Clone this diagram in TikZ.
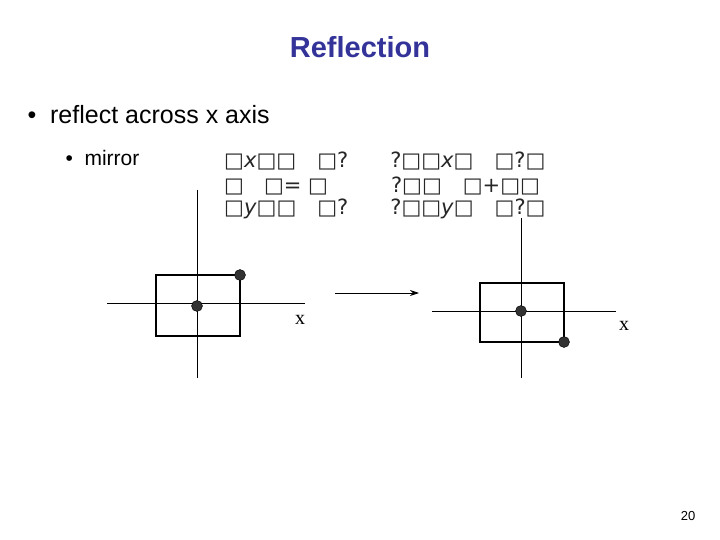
\documentclass[tikz,border=0pt]{standalone}
\usepackage{fontspec}
\setmainfont{Liberation Sans}
\newfontfamily\glyphfont{DejaVu Sans}
\newfontfamily\serifx{Liberation Serif}
\definecolor{titleblue}{RGB}{51,51,153}
\definecolor{dotgray}{RGB}{50,50,50}
\usetikzlibrary{arrows.meta}
\usetikzlibrary{positioning}
\begin{document}
\begin{tikzpicture}[x=1pt,y=-1pt,
      axis style/.style={draw=black,line width=0.9pt},
      box style/.style={draw=black,line width=1.5pt},
      pt style/.style={circle,fill=dotgray,draw=black,inner sep=0pt,minimum size=11pt},
      eq style/.style={anchor=west,inner sep=0pt,font=\glyphfont\fontsize{21}{21}\selectfont,color=black!85}
      ]
      \useasboundingbox (0,0) rectangle (720,540);
      \node[font=\bfseries\fontsize{29}{29}\selectfont,color=titleblue] (title) at (360,47) {Reflection};
      \node[anchor=west,font=\fontsize{25}{25}\selectfont] (b1) at (24,115) {\textbullet\ \ reflect across x axis};
      \node[anchor=west,font=\fontsize{21}{21}\selectfont] (b2) at (62,158) {\textbullet\ \ mirror};

      % garbled formula
      \node[eq style] (r1) at (224,161) {□\textit{x}□□\quad □?\qquad ?□□\textit{x}□\quad □?□};
      \node[eq style] (r2) at (224,186) {□\ \ \ □=\ □\qquad\quad ?□□\quad □+□□};
      \node[eq style] (r3) at (224,209) {□\textit{y}□□\quad □?\qquad ?□□\textit{y}□\quad □?□};

      % left axes
      \coordinate (lt) at (197,190); \coordinate (lb) at (197,378);
      \coordinate (ll) at (107,303); \coordinate (lr) at (305,303);
      \draw[axis style] (lt) -- (lb);
      \draw[axis style] (ll) -- (lr);
      \draw[box style] (156,275) rectangle (240,336);
      \node[pt style] (p1) at (240,275) {};
      \node[pt style] (p2) at (197,306) {};
      \node[font=\serifx\fontsize{20}{20}\selectfont] (xl) at (300,320) {x};

      % arrow
      \coordinate (as) at (335,293); \coordinate (ae) at (419,293);
      \draw[-{Stealth[length=9pt,width=6pt]},line width=0.9pt] (as) -- (ae);

      % right axes
      \coordinate (rt) at (521,218); \coordinate (rb) at (521,378);
      \coordinate (rl) at (432,311); \coordinate (rr) at (616,311);
      \draw[axis style] (rt) -- (rb);
      \draw[axis style] (rl) -- (rr);
      \draw[box style] (480,283) rectangle (564,342);
      \node[pt style] (q1) at (521,311) {};
      \node[pt style] (q2) at (564,342) {};
      \node[font=\serifx\fontsize{20}{20}\selectfont] (xr) at (624,326) {x};

      \node[font=\fontsize{13}{13}\selectfont] (pg) at (688,516) {20};
\end{tikzpicture}
\end{document}
